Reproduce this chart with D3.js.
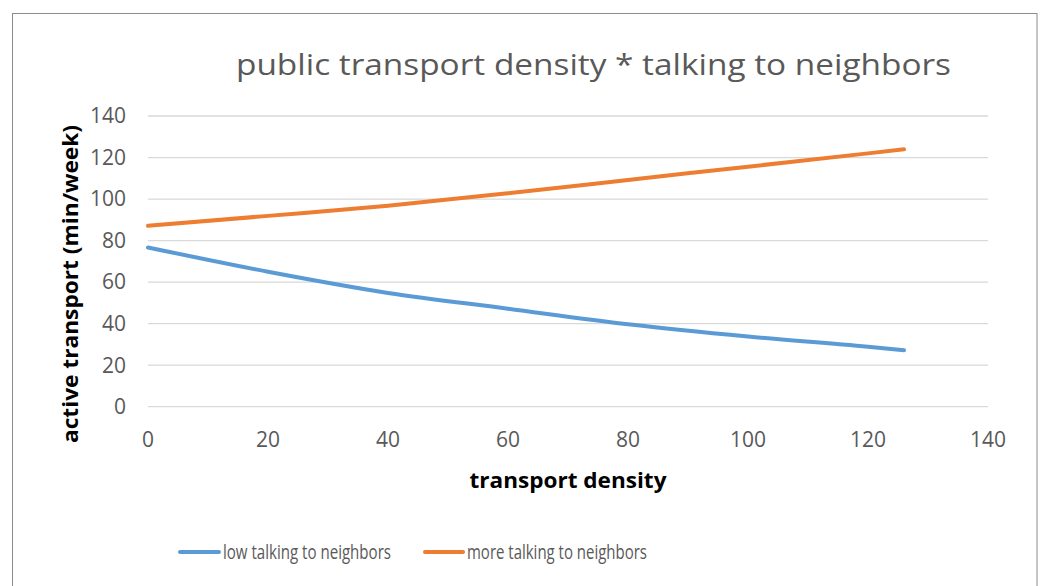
<!DOCTYPE html>
<html>
<head>
<meta charset="utf-8">
<script src="https://cdn.jsdelivr.net/npm/d3@7"></script>
<style>
  html, body { margin: 0; padding: 0; background: #fff; }
  svg { display: block; font-family: "Open Sans", "Noto Sans", sans-serif; }
</style>
</head>
<body>
<svg id="chart" width="1041" height="586"></svg>
<script>
// Transport density values at which the two fitted curves are shown
const density = [0, 20, 40, 60, 80, 100, 120, 126];
// Active transport (min/week) for each talking-to-neighbors group
const lowTalking = [76.7, 65.0, 54.8, 47.2, 39.7, 33.8, 28.9, 27.2];
const moreTalking = [87.1, 91.9, 96.8, 102.8, 109.2, 115.6, 122.0, 124.0];

const seriesNames = ["low talking to neighbors", "more talking to neighbors"];
const seriesColors = ["#5B9BD5", "#ED7D31"];
const xTicks = [0, 20, 40, 60, 80, 100, 120, 140];
const yTicks = [0, 20, 40, 60, 80, 100, 120, 140];

const titleText = "public transport density * talking to neighbors";
const xTitle = "transport density";
const yTitle = "active transport (min/week)";

const svg = d3.select("#chart");

// outer chart frame
svg.append("rect")
  .attr("x", 12.5).attr("y", 13.5)
  .attr("width", 1024.5).attr("height", 600)
  .attr("fill", "#fff").attr("stroke", "#8c8c8c").attr("stroke-width", 1);

const plot = { left: 148, right: 988, top: 116, bottom: 406.7 };

const x = d3.scaleLinear().domain([0, 140]).range([plot.left, plot.right]);
const y = d3.scaleLinear().domain([0, 140]).range([plot.bottom, plot.top]);

// horizontal gridlines
svg.append("g")
  .selectAll("line")
  .data(yTicks)
  .join("line")
  .attr("x1", plot.left).attr("x2", plot.right)
  .attr("y1", d => y(d)).attr("y2", d => y(d))
  .attr("stroke", "#D9D9D9").attr("stroke-width", 1.3);

// y tick labels
svg.append("g")
  .selectAll("text")
  .data(yTicks)
  .join("text")
  .attr("x", 126)
  .attr("y", d => y(d))
  .attr("dy", "0.35em")
  .attr("text-anchor", "end")
  .attr("font-size", 21)
  .attr("fill", "#595959")
  .text(d => d);

// x tick labels
svg.append("g")
  .selectAll("text")
  .data(xTicks)
  .join("text")
  .attr("x", d => x(d))
  .attr("y", 440)
  .attr("dy", "0.35em")
  .attr("text-anchor", "middle")
  .attr("font-size", 21)
  .attr("fill", "#595959")
  .text(d => d);

// chart title
svg.append("text")
  .attr("x", 593.5).attr("y", 75)
  .attr("text-anchor", "middle")
  .attr("font-size", 30)
  .attr("fill", "#595959")
  .attr("textLength", 715).attr("lengthAdjust", "spacingAndGlyphs")
  .text(titleText);

// axis titles
svg.append("text")
  .attr("x", 568).attr("y", 488)
  .attr("text-anchor", "middle")
  .attr("font-size", 21).attr("font-weight", "bold")
  .attr("fill", "#000")
  .attr("textLength", 197).attr("lengthAdjust", "spacingAndGlyphs")
  .text(xTitle);

svg.append("text")
  .attr("transform", "translate(78,284) rotate(-90)")
  .attr("text-anchor", "middle")
  .attr("font-size", 21).attr("font-weight", "bold")
  .attr("fill", "#000")
  .attr("textLength", 318).attr("lengthAdjust", "spacingAndGlyphs")
  .text(yTitle);

// series lines
const line = d3.line()
  .x(d => x(d[0]))
  .y(d => y(d[1]))
  .curve(d3.curveMonotoneX);

[lowTalking, moreTalking].forEach((vals, i) => {
  svg.append("path")
    .datum(density.map((dv, j) => [dv, vals[j]]))
    .attr("d", line)
    .attr("fill", "none")
    .attr("stroke", seriesColors[i])
    .attr("stroke-width", 4)
    .attr("stroke-linecap", "round")
    .attr("stroke-linejoin", "round");
});

// legend
const legendItems = [
  { x0: 180, x1: 219, tx: 223, w: 168 },
  { x0: 425, x1: 463, tx: 467, w: 180 }
];
const legend = svg.append("g");
legendItems.forEach((it, i) => {
  legend.append("line")
    .attr("x1", it.x0).attr("x2", it.x1)
    .attr("y1", 552).attr("y2", 552)
    .attr("stroke", seriesColors[i])
    .attr("stroke-width", 4)
    .attr("stroke-linecap", "round");
  legend.append("text")
    .attr("x", it.tx).attr("y", 552)
    .attr("dy", "0.35em")
    .attr("font-size", 20)
    .attr("fill", "#595959")
    .attr("textLength", it.w).attr("lengthAdjust", "spacingAndGlyphs")
    .text(seriesNames[i]);
});
</script>
</body>
</html>
